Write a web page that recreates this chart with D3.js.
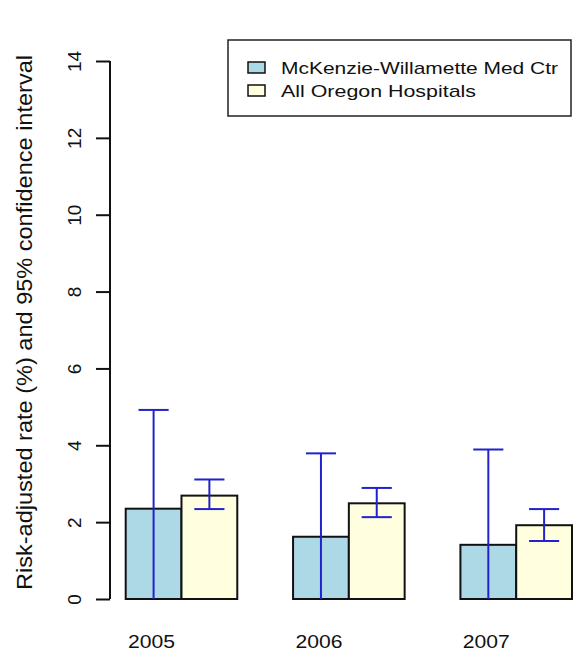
<!DOCTYPE html>
<html>
<head>
<meta charset="utf-8">
<script src="https://cdn.jsdelivr.net/npm/d3@7"></script>
<style>
  html, body { margin: 0; padding: 0; background: #fff; }
  svg { display: block; font-family: "Liberation Sans", Arial, sans-serif; }
</style>
</head>
<body>
<svg id="chart" width="579" height="654"></svg>
<script>
// ---- data ----
const years = ["2005", "2006", "2007"];
const seriesNames = ["McKenzie-Willamette Med Ctr", "All Oregon Hospitals"];
const hospitalRate  = [2.35, 1.62, 1.41];
const hospitalLower = [0, 0, 0];
const hospitalUpper = [4.92, 3.79, 3.89];
const oregonRate  = [2.69, 2.49, 1.92];
const oregonLower = [2.34, 2.13, 1.51];
const oregonUpper = [3.11, 2.89, 2.34];
const yTicks = [0, 2, 4, 6, 8, 10, 12, 14];

// ---- styles ----
const fills = ["#ADD8E6", "#FFFFE0"];
const errColor = "#2222cc";

const svg = d3.select("#chart");

// R-style barplot positions: bars of width 1, space c(0,1)
const x = d3.scaleLinear().domain([1, 9]).range([125.7, 572]);
const y = d3.scaleLinear().domain([0, 14]).range([599, 61]);

const bars = [];
years.forEach((yr, i) => {
  const g0 = 1 + i * 3;
  bars.push({s: 0, x0: g0,     v: hospitalRate[i], lo: hospitalLower[i], hi: hospitalUpper[i]});
  bars.push({s: 1, x0: g0 + 1, v: oregonRate[i],   lo: oregonLower[i],   hi: oregonUpper[i]});
});

// bars
svg.append("g").selectAll("rect").data(bars).join("rect")
  .attr("x", d => x(d.x0))
  .attr("width", d => x(d.x0 + 1) - x(d.x0))
  .attr("y", d => y(d.v))
  .attr("height", d => y(0) - y(d.v))
  .attr("fill", d => fills[d.s])
  .attr("stroke", "#111")
  .attr("stroke-width", 2);

// error bars
const capHalf = 0.27;
const eb = svg.append("g").attr("stroke", errColor).attr("stroke-width", 2).attr("fill", "none");
bars.forEach(d => {
  const cx = d.x0 + 0.5;
  eb.append("line").attr("x1", x(cx)).attr("x2", x(cx)).attr("y1", y(d.lo)).attr("y2", y(d.hi));
  eb.append("line").attr("x1", x(cx - capHalf)).attr("x2", x(cx + capHalf)).attr("y1", y(d.hi)).attr("y2", y(d.hi));
  if (d.lo > 0) {
    eb.append("line").attr("x1", x(cx - capHalf)).attr("x2", x(cx + capHalf)).attr("y1", y(d.lo)).attr("y2", y(d.lo));
  }
});

// y axis
const yAxis = d3.axisLeft(y).tickValues(yTicks).tickSize(14).tickPadding(0).tickFormat(d3.format("d"));
const ag = svg.append("g").attr("transform", "translate(110,0)").call(yAxis);
ag.select(".domain").attr("d", `M0,${y(0)}V${y(14)}`).attr("stroke", "#111").attr("stroke-width", 2);
ag.selectAll(".tick line").attr("stroke", "#111").attr("stroke-width", 2);
ag.selectAll(".tick text")
  .attr("x", null).attr("dy", null)
  .attr("transform", "translate(-29,0) rotate(-90)")
  .attr("text-anchor", "middle")
  .attr("font-size", 19)
  .attr("fill", "#111")
  .attr("font-family", "'Liberation Sans', Arial, sans-serif");

// y label
svg.append("text")
  .attr("transform", `translate(32,${(55 + 590) / 2}) rotate(-90)`)
  .attr("text-anchor", "middle")
  .attr("font-size", 22)
  .attr("fill", "#111")
  .attr("textLength", 535)
  .attr("lengthAdjust", "spacingAndGlyphs")
  .text("Risk-adjusted rate (%) and 95% confidence interval");

// x labels under the first bar of each group
svg.append("g").selectAll("text").data(years).join("text")
  .attr("x", (d, i) => x(1 + i * 3 + 0.5) - 2)
  .attr("y", 648)
  .attr("text-anchor", "middle")
  .attr("font-size", 18)
  .attr("fill", "#111")
  .attr("textLength", 47)
  .attr("lengthAdjust", "spacingAndGlyphs")
  .text(d => d);

// legend
const lg = svg.append("g");
lg.append("rect").attr("x", 228).attr("y", 40).attr("width", 343).attr("height", 76)
  .attr("fill", "#fff").attr("stroke", "#222").attr("stroke-width", 1.5);
const legendY = [68, 91];
const legendLen = [277, 195];
seriesNames.forEach((nm, i) => {
  lg.append("rect").attr("x", 248).attr("y", legendY[i] - 6).attr("width", 17).attr("height", 11)
    .attr("fill", fills[i]).attr("stroke", "#111").attr("stroke-width", 1.5);
  lg.append("text").attr("x", 281).attr("y", legendY[i] + 6)
    .attr("font-size", 17).attr("fill", "#111")
    .attr("textLength", legendLen[i]).attr("lengthAdjust", "spacingAndGlyphs")
    .text(nm);
});
</script>
</body>
</html>
